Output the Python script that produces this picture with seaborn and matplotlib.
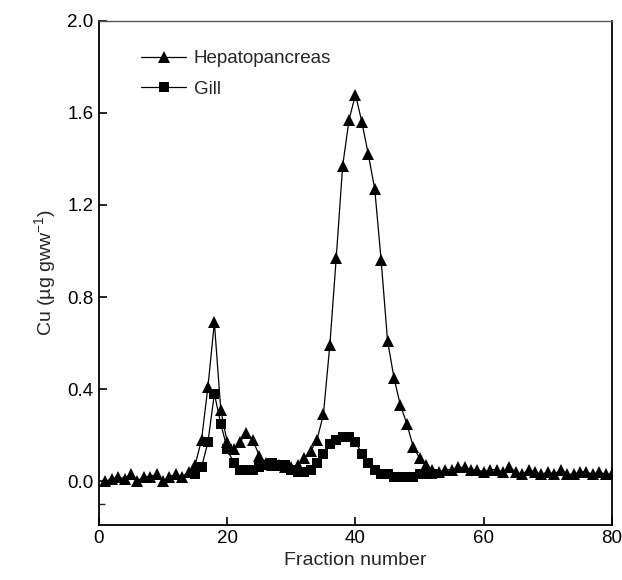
import matplotlib
matplotlib.use("Agg")
import matplotlib.pyplot as plt
import seaborn as sns
import pandas as pd
import numpy as np

hep_fraction = list(range(1, 81))
hep_cu = [0.00, 0.01, 0.02, 0.01, 0.03, 0.00, 0.02, 0.02, 0.03, 0.00,
          0.02, 0.03, 0.02, 0.04, 0.07, 0.18, 0.41, 0.69, 0.31, 0.17,
          0.14, 0.17, 0.21, 0.18, 0.11, 0.08, 0.07, 0.07, 0.06, 0.06,
          0.07, 0.10, 0.13, 0.18, 0.29, 0.59, 0.97, 1.37, 1.57, 1.68,
          1.56, 1.42, 1.27, 0.96, 0.61, 0.45, 0.33, 0.25, 0.15, 0.10,
          0.07, 0.05, 0.04, 0.05, 0.05, 0.06, 0.06, 0.05, 0.05, 0.04,
          0.05, 0.05, 0.04, 0.06, 0.04, 0.03, 0.05, 0.04, 0.03, 0.04,
          0.03, 0.05, 0.03, 0.03, 0.04, 0.04, 0.03, 0.04, 0.03, 0.03]

gill_fraction = list(range(15, 53))
gill_cu = [0.03, 0.06, 0.17, 0.38, 0.25, 0.14, 0.08, 0.05, 0.05, 0.05,
           0.06, 0.07, 0.08, 0.07, 0.07, 0.05, 0.04, 0.04, 0.05, 0.08,
           0.12, 0.16, 0.18, 0.19, 0.19, 0.17, 0.12, 0.08, 0.05, 0.03,
           0.03, 0.02, 0.02, 0.02, 0.02, 0.03, 0.03, 0.03]

x_ticks = [0, 20, 40, 60, 80]
y_ticks = [0.0, 0.4, 0.8, 1.2, 1.6, 2.0]

sns.set_style("ticks")
plt.rcParams['font.family'] = ['Liberation Sans', 'DejaVu Sans']

fig = plt.figure(figsize=(6.22, 5.8), dpi=100)
ax = fig.add_axes([0.159, 0.095, 0.825, 0.869])

hep_df = pd.DataFrame({"Fraction": hep_fraction, "Cu": hep_cu})
gill_df = pd.DataFrame({"Fraction": gill_fraction, "Cu": gill_cu})

sns.lineplot(data=gill_df, x="Fraction", y="Cu", ax=ax, color="black",
             marker="s", markersize=6.5, linewidth=0.9, markeredgewidth=0,
             label="Gill")
sns.lineplot(data=hep_df, x="Fraction", y="Cu", ax=ax, color="black",
             marker="^", markersize=8.5, linewidth=0.9, markeredgewidth=0,
             label="Hepatopancreas")

ax.set_xlim(0, 80)
ax.set_ylim(-0.19, 2.0)
ax.set_xticks(x_ticks)
ax.set_yticks(y_ticks)
ax.set_yticklabels([f"{v:.1f}" for v in y_ticks])
ax.set_yticks([-0.1], minor=True)
ax.tick_params(axis="both", which="major", direction="in", length=6,
               width=1.2, labelsize=13.5, pad=4, colors="black")
ax.tick_params(axis="y", which="minor", direction="in", length=4, width=1.0)
ax.set_xlabel("Fraction number", fontsize=14, labelpad=3)
ax.set_ylabel("Cu (µg gww$^{\\mathregular{-1}}$)", fontsize=14, labelpad=6)

for side in ["left", "bottom", "right"]:
    ax.spines[side].set_linewidth(1.3)
    ax.spines[side].set_color("black")
ax.spines["top"].set_linewidth(1.0)
ax.spines["top"].set_color("#555555")

handles, labels = ax.get_legend_handles_labels()
order = [labels.index("Hepatopancreas"), labels.index("Gill")]
ax.legend([handles[i] for i in order], [labels[i] for i in order],
          loc="upper left", bbox_to_anchor=(0.05, 0.975), frameon=False,
          fontsize=13.5, handlelength=2.4, handletextpad=0.4, labelspacing=0.7)

fig.savefig("out.png", dpi=100)
